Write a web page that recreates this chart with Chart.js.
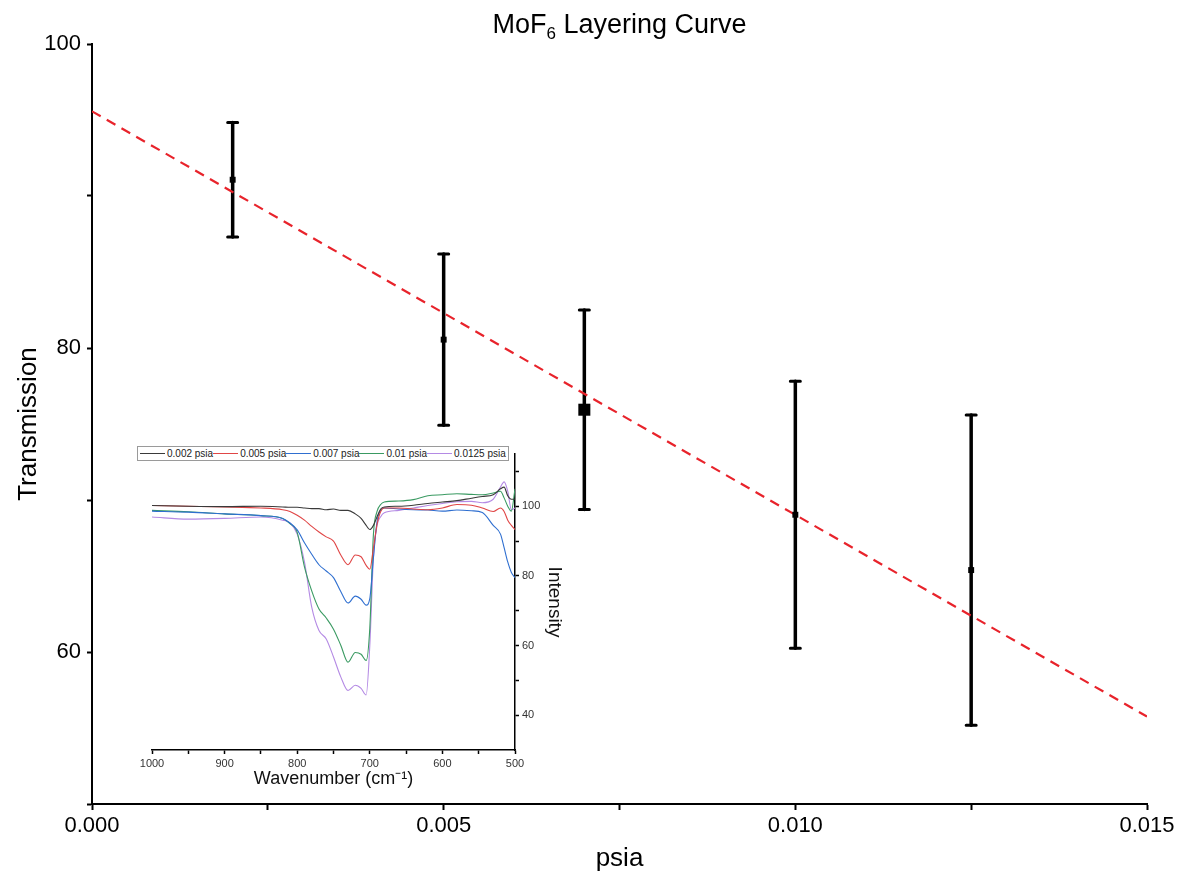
<!DOCTYPE html>
<html>
<head>
<meta charset="utf-8">
<title>MoF6 Layering Curve</title>
<script src="https://cdn.jsdelivr.net/npm/chart.js@4.4.1/dist/chart.umd.min.js"></script>
<style>
  body { margin: 0; background: #fff; font-family: 'Liberation Sans', Arial, sans-serif; }
  #wrap { position: relative; width: 1178px; height: 883px; }
  #main { position: absolute; left: 0; top: 0; }
  #inset { position: absolute; left: 140px; top: 440px; }
  #title {
    position: absolute; left: 92px; top: 2px; width: 1055px; height: 44px;
    line-height: 44px; text-align: center; font-size: 27px; color: #000;
  }
  #title sub { font-size: 17px; vertical-align: -6px; line-height: 0; }
  #insetLegend {
    position: absolute; left: 137px; top: 446px; height: 13px;
    border: 1px solid #9a9a9a; background: #fff;
    display: flex; align-items: center; padding: 0 2px 0 2px;
    font-size: 10px; color: #222; white-space: nowrap;
  }
  #insetLegend .item { display: flex; align-items: center; }
  #insetLegend .swatch { display: inline-block; width: 25px; height: 1px; margin-right: 2px; }
</style>
</head>
<body>
<div id="wrap">
  <canvas id="main" width="1178" height="883"></canvas>
  <div id="title">MoF<sub>6</sub> Layering Curve</div>
  <canvas id="inset" width="435" height="350"></canvas>
  <div id="insetLegend"></div>
</div>
<script>
// Layering measurements: pressure vs transmission with error
const psia = [0.002, 0.005, 0.007, 0.010, 0.0125];
const transmission = [91.07, 80.55, 75.94, 69.03, 65.39];
const transmissionErr = [3.77, 5.63, 6.56, 8.79, 10.21];
const markerRadius = [4.2, 4.2, 8.5, 4.2, 4.2];

// Linear fit end points
const fitX = [0, 0.015];
const fitY = [95.57, 55.75];

// IR spectra (inset), intensity at each wavenumber
const wavenumber = [1000, 950, 900, 850, 820, 810, 800, 790, 780, 770, 760, 750, 740, 730, 720, 712, 705, 700,
  695, 690, 685, 680, 660, 640, 620, 600, 580, 560, 545, 530, 520, 515, 510, 505, 500];
const spec0020 = [100.2, 100.0, 99.9, 100.0, 99.8, 99.7, 99.7, 99.5, 99.3, 99.3, 99.0, 99.2, 98.8, 98.8, 97.8, 96.5, 94.5, 93.3,
  94.5, 97.0, 99.2, 99.8, 100.0, 100.3, 100.8, 101.2, 101.6, 102.3, 102.8, 103.3, 105.0, 105.5, 103.0, 102.0, 102.0];
const spec0050 = [100.2, 100.0, 99.8, 99.5, 99.0, 98.5, 97.4, 96.0, 94.2, 92.6, 91.2, 90.0, 86.0, 83.2, 86.0, 85.5, 83.0, 81.9,
  88.0, 94.8, 98.5, 99.5, 99.5, 99.2, 99.0, 99.5, 100.5, 100.3, 99.5, 98.5, 99.5, 98.5, 96.0, 94.5, 93.3];
const spec0070 = [98.6, 98.3, 97.8, 97.3, 96.5, 95.2, 93.2, 89.5, 86.2, 83.2, 81.4, 79.5, 75.5, 72.2, 74.2, 73.3, 71.6, 73.5,
  85.2, 95.7, 98.8, 99.5, 99.2, 99.0, 98.9, 98.6, 98.9, 98.7, 98.2, 94.5, 92.0, 88.1, 84.0, 81.0, 79.5];
const spec0100 = [98.8, 98.4, 97.8, 97.3, 96.5, 95.0, 92.5, 82.6, 75.7, 70.5, 67.9, 64.7, 60.1, 55.2, 58.0, 57.5, 55.7, 65.0,
  92.0, 98.5, 100.5, 101.2, 101.5, 101.9, 103.0, 103.3, 103.6, 103.4, 103.3, 103.8, 104.3, 102.4, 100.0, 98.6, 105.0];
const spec0125 = [96.9, 96.3, 96.5, 96.9, 96.0, 95.2, 92.0, 84.0, 71.0, 64.3, 61.9, 56.7, 51.0, 47.1, 48.6, 47.7, 45.8, 60.0,
  85.2, 94.5, 97.0, 98.1, 98.8, 99.5, 100.2, 100.8, 101.3, 101.4, 101.0, 102.0, 105.5, 107.0, 104.3, 99.0, 99.5];
const specLabels = ['0.002 psia', '0.005 psia', '0.007 psia', '0.01 psia', '0.0125 psia'];
const specColors = ['#3a3a3a', '#e04646', '#2f6fd0', '#3a9a62', '#b48ae4'];

Chart.defaults.font.family = "'Liberation Sans', Arial, sans-serif";
Chart.defaults.color = '#000';

// vertical error bars with caps, drawn under the markers
const errorBars = {
  id: 'errorBars',
  beforeDatasetsDraw(chart) {
    const { ctx, scales: { x, y } } = chart;
    ctx.save();
    ctx.strokeStyle = '#000';
    ctx.lineCap = 'round';
    psia.forEach((p, i) => {
      const px = x.getPixelForValue(p);
      const top = y.getPixelForValue(transmission[i] + transmissionErr[i]);
      const bot = y.getPixelForValue(transmission[i] - transmissionErr[i]);
      ctx.lineWidth = 3.5;
      ctx.beginPath();
      ctx.moveTo(px, top);
      ctx.lineTo(px, bot);
      ctx.stroke();
      ctx.lineWidth = 3;
      ctx.beginPath();
      ctx.moveTo(px - 5, top);
      ctx.lineTo(px + 5, top);
      ctx.moveTo(px - 5, bot);
      ctx.lineTo(px + 5, bot);
      ctx.stroke();
    });
    ctx.restore();
  }
};

const xTicks = [0, 0.0025, 0.005, 0.0075, 0.01, 0.0125, 0.015];
const yTicks = [50, 60, 70, 80, 90, 100];

new Chart(document.getElementById('main'), {
  type: 'scatter',
  data: {
    datasets: [
      {
        data: psia.map((p, i) => ({ x: p, y: transmission[i] })),
        pointStyle: 'rect',
        pointRadius: markerRadius,
        backgroundColor: '#000',
        borderColor: '#000',
        borderWidth: 0
      },
      {
        type: 'line',
        data: fitX.map((v, i) => ({ x: v, y: fitY[i] })),
        borderColor: '#e8232b',
        borderWidth: 2.2,
        borderDash: [10, 7],
        pointRadius: 0,
        fill: false
      }
    ]
  },
  options: {
    responsive: false,
    animation: false,
    events: [],
    layout: { padding: { left: 0, right: 31, top: 44, bottom: 0 } },
    plugins: {
      legend: { display: false },
      tooltip: { enabled: false },
      title: { display: false }
    },
    scales: {
      x: {
        type: 'linear',
        min: 0,
        max: 0.015,
        afterBuildTicks: (s) => { s.ticks = xTicks.map(v => ({ value: v })); },
        afterFit: (s) => { s.height = 79; },
        ticks: {
          font: { size: 22 },
          color: '#000',
          padding: 3,
          maxRotation: 0,
          callback: (v) => Math.round(v / 0.0025) % 2 === 0 ? v.toFixed(3) : ''
        },
        grid: { drawOnChartArea: false, tickLength: 6, tickColor: '#000', tickWidth: 2 },
        border: { color: '#000', width: 2 },
        title: { display: true, text: 'psia', font: { size: 26 }, color: '#000', padding: { top: 0, bottom: 9 } }
      },
      y: {
        min: 50,
        max: 100,
        afterBuildTicks: (s) => { s.ticks = yTicks.map(v => ({ value: v })); },
        afterFit: (s) => { s.width = 92; },
        ticks: {
          font: { size: 22 },
          color: '#000',
          padding: 6,
          callback: (v) => v % 20 === 0 ? v : ''
        },
        grid: { drawOnChartArea: false, tickLength: 5, tickColor: '#000', tickWidth: 2 },
        border: { color: '#000', width: 2 },
        title: { display: true, text: 'Transmission', font: { size: 26 }, color: '#000', padding: { top: 13 } }
      }
    }
  },
  plugins: [errorBars]
});

const spectra = [spec0020, spec0050, spec0070, spec0100, spec0125];
const insetXTicks = [];
for (let w = 500; w <= 1000; w += 50) insetXTicks.push(w);
const insetYTicks = [40, 50, 60, 70, 80, 90, 100, 110];

const insetChart = new Chart(document.getElementById('inset'), {
  type: 'line',
  data: {
    datasets: spectra.map((s, k) => ({
      label: specLabels[k],
      data: wavenumber.map((w, i) => ({ x: w, y: s[i] })),
      borderColor: specColors[k],
      backgroundColor: specColors[k],
      borderWidth: 1.1,
      pointRadius: 0,
      cubicInterpolationMode: 'monotone',
      fill: false
    }))
  },
  options: {
    responsive: false,
    animation: false,
    events: [],
    layout: { padding: { left: 12, top: 14, right: 0, bottom: 0 } },
    plugins: {
      tooltip: { enabled: false },
      legend: { display: false }
    },
    scales: {
      x: {
        type: 'linear',
        reverse: true,
        min: 500,
        max: 1000,
        afterBuildTicks: (s) => { s.ticks = insetXTicks.map(v => ({ value: v })); },
        afterFit: (s) => { s.height = 40; },
        ticks: {
          font: { size: 11 },
          color: '#333',
          padding: 3,
          maxRotation: 0,
          callback: (v) => v % 100 === 0 ? v : ''
        },
        grid: { drawOnChartArea: false, tickLength: 4, tickColor: '#000', tickWidth: 1.5 },
        border: { color: '#000', width: 1.5 },
        title: { display: true, text: 'Wavenumber (cm\u207B\u00B9)', font: { size: 18 }, color: '#111', padding: { top: 0, bottom: 0 } }
      },
      y: {
        position: 'right',
        min: 30,
        max: 115,
        afterBuildTicks: (s) => { s.ticks = insetYTicks.map(v => ({ value: v })); },
        afterFit: (s) => { s.width = 60; },
        ticks: {
          font: { size: 11 },
          color: '#333',
          padding: 3,
          callback: (v) => v % 20 === 0 ? v : ''
        },
        grid: { drawOnChartArea: false, tickLength: 4, tickColor: '#000', tickWidth: 1.5 },
        border: { color: '#000', width: 1.5 },
        title: { display: true, text: 'Intensity', font: { size: 19 }, color: '#111', padding: { top: 9 } }
      }
    }
  }
});

// HTML legend for the inset, built from the chart's datasets
const legendEl = document.getElementById('insetLegend');
insetChart.data.datasets.forEach((ds) => {
  const item = document.createElement('span');
  item.className = 'item';
  const swatch = document.createElement('span');
  swatch.className = 'swatch';
  swatch.style.backgroundColor = ds.borderColor;
  item.appendChild(swatch);
  item.appendChild(document.createTextNode(ds.label));
  legendEl.appendChild(item);
});
</script>
</body>
</html>
